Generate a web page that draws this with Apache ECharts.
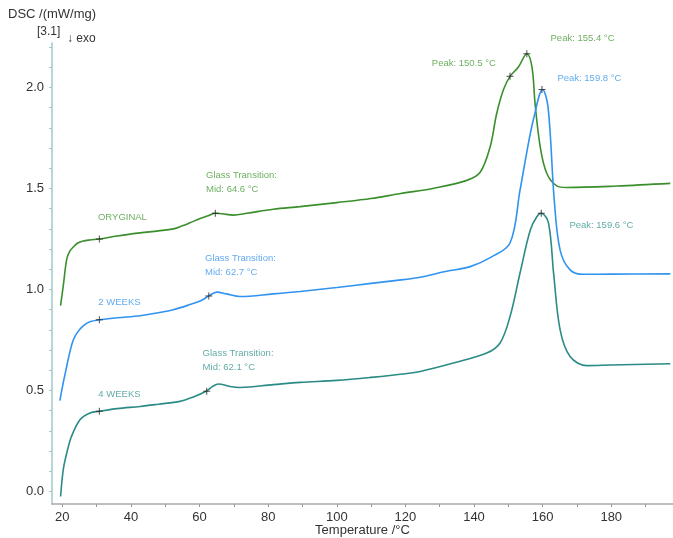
<!DOCTYPE html>
<html>
<head>
<meta charset="utf-8">
<script src="https://cdn.jsdelivr.net/npm/echarts@6/dist/echarts.min.js"></script>
<style>html,body{margin:0;padding:0;background:#fff}#c{width:673px;height:538px}</style>
</head>
<body>
<div id="c"></div>
<script>
// ---- data ----
const origT = [19.5, 20.3, 21.3, 22.2, 23.2, 24.5, 26.1, 28.0, 30.8, 36, 42.7, 48, 52.4, 55, 57.2, 60, 62.5, 64.6, 66.5, 69.9, 73.8, 81.5, 89.3, 100, 110, 118.6, 128, 137.9, 141.8, 144.7, 146.6, 148.6, 150.5, 152.9, 155.4, 156.9, 157.8, 159.3, 161.2, 164.1, 167, 181.6, 197.2];
const origV = [0.92, 1.02, 1.15, 1.19, 1.21, 1.23, 1.24, 1.245, 1.25, 1.265, 1.28, 1.29, 1.30, 1.315, 1.33, 1.35, 1.365, 1.377, 1.375, 1.368, 1.377, 1.397, 1.41, 1.43, 1.45, 1.475, 1.50, 1.54, 1.58, 1.706, 1.87, 1.99, 2.055, 2.10, 2.167, 2.10, 1.92, 1.706, 1.575, 1.513, 1.505, 1.512, 1.525];

const w2T = [19.3, 20.3, 21.3, 22.2, 23.2, 24.5, 26.1, 28.0, 30.8, 36, 42.7, 48, 52.4, 57.2, 60.5, 62.7, 65.0, 67.9, 71.8, 81.5, 89.3, 100, 110, 120, 124.3, 132, 138.9, 145, 150.5, 153.4, 155.5, 157.3, 160.0, 161.6, 163.4, 165.1, 168, 171.9, 180, 197.2];
const w2V = [0.45, 0.54, 0.62, 0.69, 0.75, 0.79, 0.82, 0.84, 0.85, 0.86, 0.87, 0.885, 0.90, 0.925, 0.945, 0.968, 0.987, 0.978, 0.965, 0.978, 0.99, 1.01, 1.03, 1.05, 1.06, 1.09, 1.113, 1.16, 1.23, 1.49, 1.69, 1.84, 1.99, 1.90, 1.44, 1.195, 1.097, 1.075, 1.076, 1.077];

const w4T = [19.5, 20.3, 21.3, 22.7, 25.2, 28.1, 30.8, 36, 42.7, 48, 54.3, 58.2, 61.9, 63.8, 65.5, 68.9, 71.8, 81.5, 89.3, 100, 110, 120, 124.3, 134, 143.7, 147.6, 150.5, 153.4, 156.4, 158.3, 159.6, 161.7, 163.2, 165.1, 168, 172.9, 180, 197.2];
const w4V = [-0.025, 0.11, 0.19, 0.273, 0.356, 0.389, 0.397, 0.41, 0.421, 0.432, 0.446, 0.468, 0.496, 0.52, 0.532, 0.52, 0.515, 0.529, 0.54, 0.55, 0.565, 0.583, 0.594, 0.636, 0.685, 0.735, 0.866, 1.08, 1.294, 1.36, 1.377, 1.33, 1.08, 0.80, 0.668, 0.623, 0.626, 0.632];

// marked points (crosses) per curve
const origMarkT = [30.8, 64.6, 150.5, 155.4];
const origMarkV = [1.25, 1.377, 2.055, 2.167];
const w2MarkT = [30.8, 62.7, 159.8];
const w2MarkV = [0.85, 0.968, 1.99];
const w4MarkT = [30.8, 62.1, 159.6];
const w4MarkV = [0.397, 0.496, 1.377];

// annotation texts with anchor [T, value]
const origNotes = [["ORYGINAL", 30.4, 1.359], ["Glass Transition:", 61.9, 1.567], ["Mid: 64.6 °C", 61.9, 1.493], ["Peak: 150.5 °C", 127.7, 2.119], ["Peak: 155.4 °C", 162.3, 2.243]];
const w2Notes = [["2 WEEKS", 30.5, 0.936], ["Glass Transition:", 61.6, 1.152], ["Mid: 62.7 °C", 61.6, 1.086], ["Peak: 159.8 °C", 164.3, 2.045]];
const w4Notes = [["4 WEEKS", 30.5, 0.483], ["Glass Transition:", 60.9, 0.686], ["Mid: 62.1 °C", 60.9, 0.616], ["Peak: 159.6 °C", 167.8, 1.315]];

const xLabelVals = [20, 40, 60, 80, 100, 120, 140, 160, 180];
const xTickVals = [20, 30, 40, 50, 60, 70, 80, 90, 100, 110, 120, 130, 140, 150, 160, 170, 180, 190];
const yLabelVals = [0.0, 0.5, 1.0, 1.5, 2.0];
const yTickVals = [0.0, 0.1, 0.2, 0.3, 0.4, 0.5, 0.6, 0.7, 0.8, 0.9, 1.0, 1.1, 1.2, 1.3, 1.4, 1.5, 1.6, 1.7, 1.8, 1.9, 2.0, 2.1, 2.2];

// ---- chart ----
const GREEN = '#3a8f2c', BLUE = '#3193f0', TEAL = '#2a8b85';
const TXT_GREEN = '#4a9a38', TXT_BLUE = '#3b96ec', TXT_TEAL = '#3a9690';
const FONT = '"Liberation Sans",Arial,sans-serif';
const zip = (a, b) => a.map((t, i) => [t, b[i]]);
const PLUS = 'path://M3,0h1v3h3v1h-3v3h-1v-3h-3v-1h3z';

function curve(name, T, V, color) {
  return { name, type: 'line', data: zip(T, V), smooth: 0.35, showSymbol: false, clip: false,
    lineStyle: { color, width: 1.6 }, itemStyle: { color }, z: 2, silent: true };
}
function marks(T, V) {
  return { type: 'scatter', data: zip(T, V), symbol: PLUS, symbolSize: 7, clip: false,
    itemStyle: { color: '#222' }, z: 4, silent: true };
}
function notes(list, color) {
  return { type: 'scatter', data: list.map(n => ({ value: [n[1], n[2]], name: n[0] })), symbolSize: 0, clip: false, z: 5, silent: true,
    label: { show: true, position: 'right', distance: 0, formatter: p => p.name, color, fontSize: 9.5, fontFamily: FONT } };
}

const chart = echarts.init(document.getElementById('c'), null, { renderer: 'canvas' });
chart.setOption({
  animation: false,
  backgroundColor: '#fff',
  grid: { left: 52, right: 0, top: 43, bottom: 34, containLabel: false, outerBoundsMode: 'none' },
  xAxis: {
    type: 'value', min: 17, max: 198,
    name: 'Temperature /°C', nameLocation: 'middle', nameGap: 20, nameMoveOverlap: false,
    nameTextStyle: { color: '#333', fontSize: 13, fontFamily: FONT },
    axisLine: { show: true, onZero: false, lineStyle: { color: '#a8a8a8', width: 1.5 } },
    axisTick: { show: true, length: 3, customValues: xTickVals, lineStyle: { color: '#999' } },
    axisLabel: { customValues: xLabelVals, color: '#333', fontSize: 13, margin: 7, fontFamily: FONT },
    splitLine: { show: false }
  },
  yAxis: {
    type: 'value', min: -0.062, max: 2.22,
    axisLine: { show: true, onZero: false, lineStyle: { color: '#9fcaca', width: 1.5 } },
    axisTick: { show: true, length: 3, customValues: yTickVals, lineStyle: { color: '#9fcaca' } },
    axisLabel: { customValues: yLabelVals, color: '#333', fontSize: 13, margin: 8, formatter: v => v.toFixed(1), fontFamily: FONT },
    splitLine: { show: false }
  },
  graphic: [
    { type: 'text', left: 8, top: 8, style: { text: 'DSC /(mW/mg)', fill: '#333', font: '13px "Liberation Sans", Arial, sans-serif' } },
    { type: 'text', left: 37, top: 26, style: { text: '[3.1]', fill: '#333', font: '12px "Liberation Sans", Arial, sans-serif' } },
    { type: 'text', left: 67, top: 33, style: { text: '↓ exo', fill: '#333', font: '12px "Liberation Sans", "DejaVu Sans", Arial, sans-serif' } }
  ],
  series: [
    curve('ORYGINAL', origT, origV, GREEN),
    curve('2 WEEKS', w2T, w2V, BLUE),
    curve('4 WEEKS', w4T, w4V, TEAL),
    marks(origMarkT, origMarkV),
    marks(w2MarkT, w2MarkV),
    marks(w4MarkT, w4MarkV),
    notes(origNotes, TXT_GREEN),
    notes(w2Notes, TXT_BLUE),
    notes(w4Notes, TXT_TEAL)
  ]
});
</script>
</body>
</html>
